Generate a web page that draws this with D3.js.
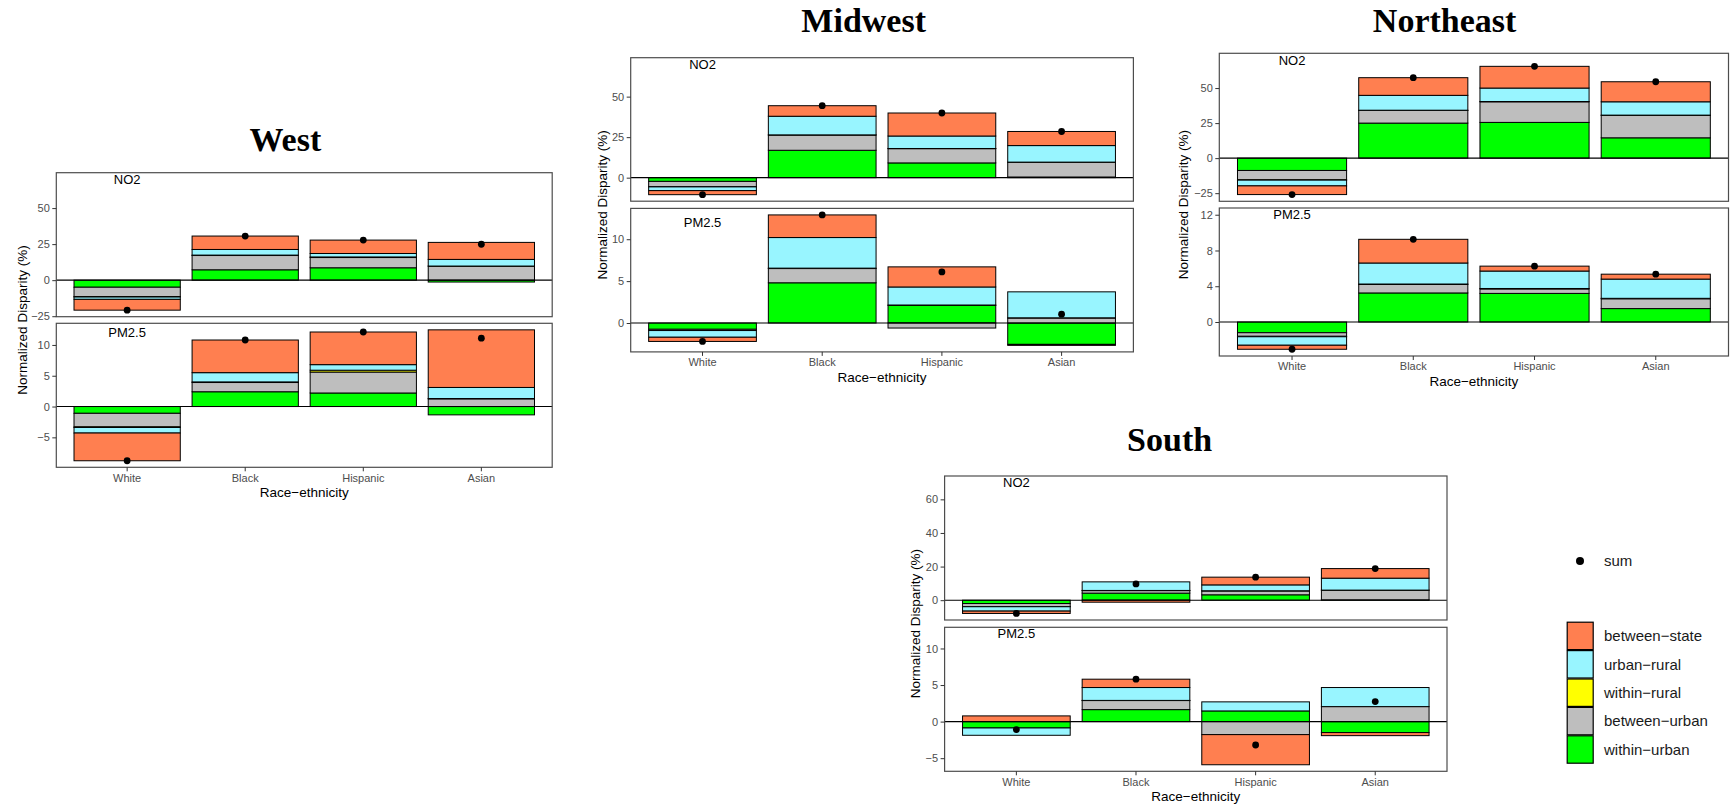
<!DOCTYPE html>
<html>
<head>
<meta charset="utf-8">
<script src="https://cdn.jsdelivr.net/npm/d3@7"></script>
<style>
  body { margin: 0; background: #fff; }
  svg { display: block; }
</style>
</head>
<body>
<div id="chart"></div>
<script>
// categories
var races = ["White", "Black", "Hispanic", "Asian"];
var pollutants = ["NO2", "PM2.5"];
var labelY = [70, 12];

// stacking order, from zero outwards
var components = ["within−urban", "between−urban", "within−rural", "urban−rural", "between−state"];
var compColors = ["#00ff00", "#bebebe", "#ffff00", "#98f5ff", "#ff7f50"];

// rows follow components, columns follow races
var westNO2 = [
    [-4.9, 7.2, 8.6, -1.3],
    [-6.5, 9.9, 7.1, 9.7],
    [-0.3, 0.3, 0.4, 0.1],
    [-1.6, 3.9, 2.4, 4.6],
    [-7.5, 9.3, 9.3, 11.8]
];
var westNO2Sum = [-20.8, 30.6, 27.8, 24.9];
var westPM25 = [
    [-1.1, 2.4, 2.2, -1.35],
    [-2.2, 1.5, 3.4, 1.25],
    [-0.1, 0.1, 0.3, 0.05],
    [-0.9, 1.5, 0.9, 1.8],
    [-4.5, 5.3, 5.3, 9.35]
];
var westPM25Sum = [-8.8, 10.8, 12.1, 11.1];

var midwestNO2 = [
    [-2.3, 16.9, 9.1, 0.4],
    [-3.3, 9.4, 8.8, 9.1],
    [-0.1, 0.1, 0.1, 0.1],
    [-2.3, 11.5, 7.7, 10.2],
    [-2.5, 6.5, 14.2, 8.7]
];
var midwestNO2Sum = [-10.5, 44.4, 39.9, 28.5];
var midwestPM25 = [
    [-0.75, 4.8, 2.1, -2.55],
    [-0.15, 1.7, -0.6, 0.6],
    [0, 0.05, 0.05, 0.02],
    [-0.8, 3.65, 2.15, 3.1],
    [-0.5, 2.7, 2.4, -0.12]
];
var midwestPM25Sum = [-2.2, 12.9, 6.1, 1.05];

var northeastNO2 = [
    [-8.8, 25, 25.5, 14.5],
    [-6.7, 9.0, 14.7, 16.0],
    [-0.2, 0.2, 0.2, 0.2],
    [-4.1, 10.6, 9.6, 9.5],
    [-6.2, 12.6, 15.5, 14.3]
];
var northeastNO2Sum = [-26.0, 57.4, 65.5, 54.5];
var northeastPM25 = [
    [-1.2, 3.25, 3.2, 1.5],
    [-0.4, 0.95, 0.5, 1.1],
    [-0.05, 0.05, 0.05, 0.05],
    [-0.95, 2.35, 1.95, 2.15],
    [-0.45, 2.65, 0.55, 0.55]
];
var northeastPM25Sum = [-3.05, 9.25, 6.25, 5.35];

var southNO2 = [
    [-2.0, 4.2, 3.2, 0.2],
    [-1.8, 1.5, 2.3, 5.7],
    [-0.1, 0.1, 0.1, 0.1],
    [-2.6, 5.1, 3.5, 7.1],
    [-1.4, -1.2, 4.6, 5.7]
];
var southNO2Sum = [-7.9, 9.7, 13.7, 18.8];
var southPM25 = [
    [-0.87, 1.64, 1.46, -1.5],
    [0, 1.24, -1.78, 2.05],
    [0, 0.02, 0, 0],
    [-1.0, 1.76, 1.24, 2.61],
    [0.78, 1.14, -4.12, -0.42]
];
var southPM25Sum = [-1.09, 5.8, -3.2, 2.74];

// y tick values per panel
var westTicks = [[-25, 0, 25, 50], [-5, 0, 5, 10]];
var midwestTicks = [[0, 25, 50], [0, 5, 10]];
var northeastTicks = [[-25, 0, 25, 50], [0, 4, 8, 12]];
var southTicks = [[0, 20, 40, 60], [-5, 0, 5, 10]];

var regions = [
    {name: "West", data: [westNO2, westPM25], sums: [westNO2Sum, westPM25Sum], ticks: westTicks,
     left: 56.3, right: 552.2, top: 172.7, h: 144, gap: 6.6, titleX: 285.4, titleY: 150.7, yTitleX: 22},
    {name: "Midwest", data: [midwestNO2, midwestPM25], sums: [midwestNO2Sum, midwestPM25Sum], ticks: midwestTicks,
     left: 630.7, right: 1133.4, top: 57.7, h: 143.5, gap: 7.2, titleX: 863.7, titleY: 31.7, yTitleX: 601.8},
    {name: "Northeast", data: [northeastNO2, northeastPM25], sums: [northeastNO2Sum, northeastPM25Sum], ticks: northeastTicks,
     left: 1219.3, right: 1728.5, top: 53.3, h: 148, gap: 6.7, titleX: 1444.6, titleY: 31.7, yTitleX: 1183.3},
    {name: "South", data: [southNO2, southPM25], sums: [southNO2Sum, southPM25Sum], ticks: southTicks,
     left: 944.6, right: 1447, top: 476, h: 144, gap: 7.3, titleX: 1169.6, titleY: 450.7, yTitleX: 915}
];

var sansFont = "'Liberation Sans', Arial, Helvetica, sans-serif";

var svg = d3.select("#chart")
    .append("svg")
    .attr("width", 1730)
    .attr("height", 806)
    .style("font-family", sansFont);

function stackSegments(values) {
    var segs = [];
    races.forEach(function(r, j) {
        var pos = 0, neg = 0;
        values.forEach(function(row, c) {
            var v = row[j], y0, y1;
            if (v >= 0) { y0 = pos; y1 = pos + v; pos = y1; }
            else { y0 = neg; y1 = neg + v; neg = y1; }
            segs.push({race: r, comp: c, y0: y0, y1: y1});
        });
    });
    return segs;
}

function styleAxis(g) {
    g.select(".domain").remove();
    g.selectAll(".tick line").attr("stroke", "#333").attr("stroke-width", 1);
    g.selectAll(".tick text")
        .attr("fill", "#4d4d4d")
        .style("font-size", "11px")
        .style("font-family", sansFont);
}

function drawRegion(cfg) {
    var g = svg.append("g").attr("class", "region");

    g.append("text")
        .attr("x", cfg.titleX)
        .attr("y", cfg.titleY)
        .attr("text-anchor", "middle")
        .style("font-family", "'Liberation Serif', 'Times New Roman', serif")
        .style("font-weight", "bold")
        .style("font-size", "34px")
        .attr("fill", "#000")
        .text(cfg.name);

    var x = d3.scaleBand()
        .domain(races)
        .range([cfg.left, cfg.right])
        .paddingInner(0.1)
        .paddingOuter(0.15);

    var lastBottom = 0;

    cfg.data.forEach(function(values, k) {
        var top = cfg.top + k * (cfg.h + cfg.gap);
        var bottom = top + cfg.h;
        lastBottom = bottom;

        var segs = stackSegments(values);
        var lo = Math.min(0, labelY[k], d3.min(segs, function(d) { return Math.min(d.y0, d.y1); }));
        var hi = Math.max(0, labelY[k], d3.max(segs, function(d) { return Math.max(d.y0, d.y1); }));
        var pad = (hi - lo) * 0.05;
        var y = d3.scaleLinear().domain([lo - pad, hi + pad]).range([bottom, top]);

        var panel = g.append("g").attr("class", "panel");

        // bars
        panel.selectAll("rect.seg")
            .data(segs)
            .enter()
            .append("rect")
            .attr("class", "seg")
            .attr("x", function(d) { return x(d.race); })
            .attr("width", x.bandwidth())
            .attr("y", function(d) { return y(Math.max(d.y0, d.y1)); })
            .attr("height", function(d) { return Math.abs(y(d.y0) - y(d.y1)); })
            .attr("fill", function(d) { return compColors[d.comp]; })
            .attr("stroke", "#000")
            .attr("stroke-width", 1);

        // zero line
        panel.append("line")
            .attr("x1", cfg.left)
            .attr("x2", cfg.right)
            .attr("y1", y(0))
            .attr("y2", y(0))
            .attr("stroke", "#000")
            .attr("stroke-width", 1.1);

        // sum points
        panel.selectAll("circle.sum")
            .data(cfg.sums[k])
            .enter()
            .append("circle")
            .attr("class", "sum")
            .attr("cx", function(d, i) { return x(races[i]) + x.bandwidth() / 2; })
            .attr("cy", function(d) { return y(d); })
            .attr("r", 3.4)
            .attr("fill", "#000");

        // pollutant label
        panel.append("text")
            .attr("x", x(races[0]) + x.bandwidth() / 2)
            .attr("y", y(labelY[k]))
            .attr("dy", "0.35em")
            .attr("text-anchor", "middle")
            .style("font-size", "13px")
            .attr("fill", "#000")
            .text(pollutants[k]);

        panel.append("rect")
            .attr("x", cfg.left)
            .attr("y", top)
            .attr("width", cfg.right - cfg.left)
            .attr("height", cfg.h)
            .attr("fill", "none")
            .attr("stroke", "#4d4d4d")
            .attr("stroke-width", 1.2);

        var yAxis = d3.axisLeft(y)
            .tickValues(cfg.ticks[k])
            .tickSize(4)
            .tickPadding(2.5)
            .tickFormat(d3.format("d"));

        panel.append("g")
            .attr("transform", "translate(" + cfg.left + ",0)")
            .call(yAxis)
            .call(styleAxis);
    });

    var xAxis = d3.axisBottom(x).tickSize(4).tickPadding(2.5);
    g.append("g")
        .attr("transform", "translate(0," + lastBottom + ")")
        .call(xAxis)
        .call(styleAxis);

    g.append("text")
        .attr("x", (cfg.left + cfg.right) / 2)
        .attr("y", lastBottom + 25.4)
        .attr("dy", "0.35em")
        .attr("text-anchor", "middle")
        .style("font-size", "13.5px")
        .attr("fill", "#000")
        .text("Race−ethnicity");

    var midY = (cfg.top + lastBottom) / 2;
    g.append("text")
        .attr("transform", "translate(" + cfg.yTitleX + "," + midY + ") rotate(-90)")
        .attr("dy", "0.35em")
        .attr("text-anchor", "middle")
        .style("font-size", "13.5px")
        .attr("fill", "#000")
        .text("Normalized Disparity (%)");
}

regions.forEach(drawRegion);

// legend
var legend = svg.append("g").attr("class", "legend");

legend.append("circle")
    .attr("cx", 1580)
    .attr("cy", 561)
    .attr("r", 4)
    .attr("fill", "#000");
legend.append("text")
    .attr("x", 1604)
    .attr("y", 561)
    .attr("dy", "0.35em")
    .style("font-size", "15px")
    .attr("fill", "#1a1a1a")
    .text("sum");

var legendItems = components.map(function(c, i) { return {name: c, color: compColors[i]}; }).reverse();
var keyH = 28.4;

var keys = legend.selectAll("g.key")
    .data(legendItems)
    .enter()
    .append("g")
    .attr("class", "key")
    .attr("transform", function(d, i) { return "translate(1566.7," + (621.7 + i * keyH) + ")"; });

keys.append("rect")
    .attr("x", 0.5)
    .attr("y", 0.5)
    .attr("width", 26)
    .attr("height", keyH - 1)
    .attr("fill", function(d) { return d.color; })
    .attr("stroke", "#000")
    .attr("stroke-width", 1.2);

keys.append("text")
    .attr("x", 37.3)
    .attr("y", keyH / 2)
    .attr("dy", "0.35em")
    .style("font-size", "15px")
    .attr("fill", "#1a1a1a")
    .text(function(d) { return d.name; });
</script>
</body>
</html>
